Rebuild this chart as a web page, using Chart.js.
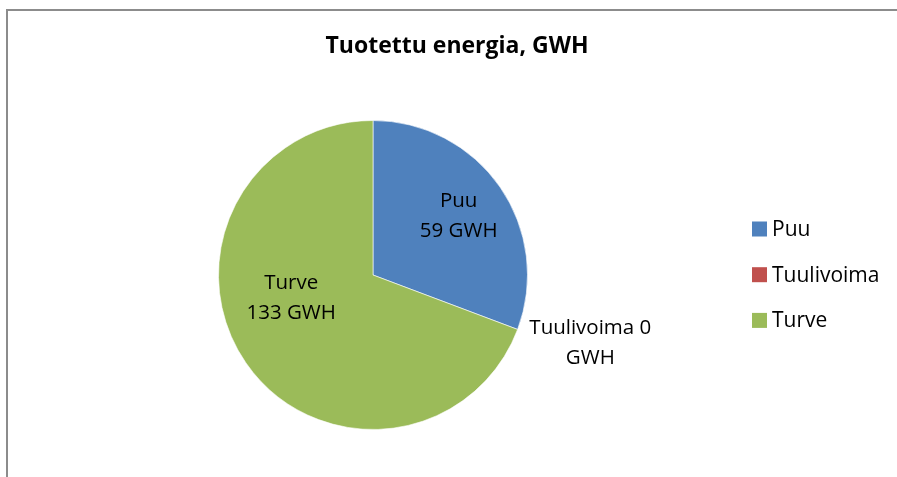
<!DOCTYPE html>
<html>
<head>
<meta charset="utf-8">
<script src="https://cdn.jsdelivr.net/npm/chart.js@4/dist/chart.umd.min.js"></script>
<style>
  html, body { margin: 0; padding: 0; background: #fff; }
  #wrap { position: relative; width: 897px; height: 477px; }
</style>
</head>
<body>
<div id="wrap"><canvas id="chart" width="897" height="477"></canvas></div>
<script>
// data
const chartTitle = 'Tuotettu energia, GWH';
const categories = ['Puu', 'Tuulivoima', 'Turve'];
const values = [59, 0, 133];
const unit = 'GWH';
const colors = ['#4F81BD', '#C0504D', '#9BBB59'];

// where each data label sits: angle in degrees (0 = 3 o'clock), radius as fraction of pie radius
const labelSpots = [
    { angle: -34.5, r: 0.673 },
    { angle: 17.4, r: 1.474 },
    { angle: 164.3, r: 0.55 }
];

const FONT = '"Open Sans", sans-serif';

const decorPlugin = {
    id: 'decor',
    beforeDraw(chart) {
        const ctx = chart.ctx;
        ctx.save();
        // outer frame (only left + top visible in crop)
        ctx.strokeStyle = '#8c8c8c';
        ctx.lineWidth = 2;
        ctx.beginPath();
        ctx.moveTo(7, 477);
        ctx.lineTo(7, 10);
        ctx.lineTo(897, 10);
        ctx.stroke();
        ctx.restore();
    },
    afterDraw(chart) {
        const ctx = chart.ctx;
        const meta = chart.getDatasetMeta(0);
        const arc0 = meta.data[0];
        const cx = arc0.x, cy = arc0.y, R = arc0.outerRadius;
        ctx.save();

        // title
        ctx.fillStyle = '#000';
        ctx.font = 'bold 23px ' + FONT;
        ctx.textAlign = 'center';
        ctx.textBaseline = 'middle';
        ctx.fillText(chartTitle, 457, 46);

        // data labels
        ctx.font = '20.5px ' + FONT;
        categories.forEach((c, i) => {
            const s = labelSpots[i];
            const a = s.angle * Math.PI / 180;
            const x = cx + Math.cos(a) * R * s.r;
            const y = cy + Math.sin(a) * R * s.r;
            let l1 = c, l2 = values[i] + ' ' + unit;
            if (values[i] === 0) { l1 = c + ' ' + values[i]; l2 = unit; }
            ctx.fillText(l1, x, y - 15);
            ctx.fillText(l2, x, y + 15);
        });

        // legend
        ctx.textAlign = 'left';
        ctx.font = '21px ' + FONT;
        categories.forEach((c, i) => {
            const y = 229 + i * 45.7;
            ctx.fillStyle = colors[i];
            ctx.fillRect(752, y - 7.5, 15, 15);
            ctx.fillStyle = '#000';
            ctx.fillText(c, 772, y + 1);
        });
        ctx.restore();
    }
};

new Chart(document.getElementById('chart'), {
    type: 'pie',
    data: {
        labels: categories,
        datasets: [{
            data: values,
            backgroundColor: colors,
            borderColor: 'rgba(255,255,255,0.6)',
            borderWidth: 1
        }]
    },
    options: {
        responsive: false,
        animation: false,
        layout: { padding: { left: 218, right: 369, top: 120, bottom: 47 } },
        plugins: {
            legend: { display: false },
            title: { display: false },
            tooltip: { enabled: false }
        }
    },
    plugins: [decorPlugin]
});
</script>
</body>
</html>
